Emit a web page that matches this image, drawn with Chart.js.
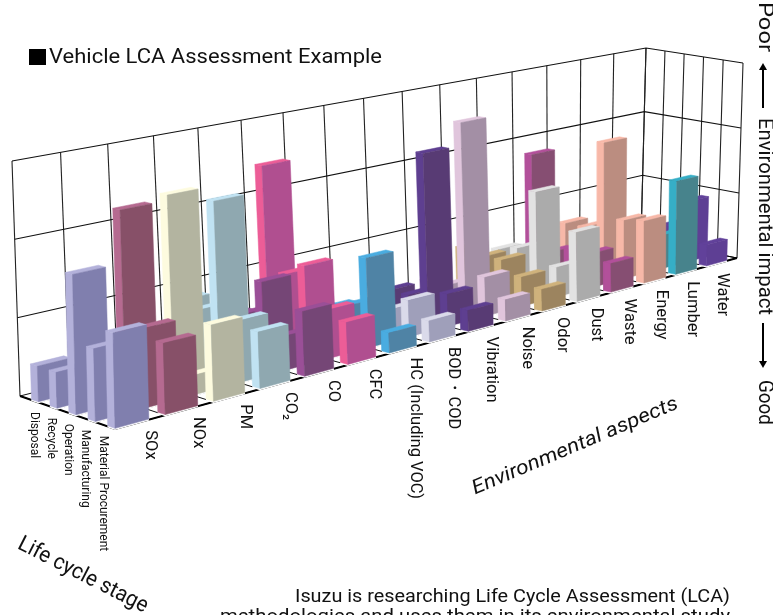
<!DOCTYPE html>
<html>
<head>
<meta charset="utf-8">
<style>
  html, body { margin: 0; padding: 0; background: #fff; overflow: hidden; }
  canvas { display: block; }
</style>
<script src="https://cdn.jsdelivr.net/npm/chart.js@4/dist/chart.umd.js"></script>
</head>
<body>
<canvas id="myChart" width="773" height="615"></canvas>
<script>
const aspects = ['SOx', 'NOx', 'PM', 'CO₂', 'CO', 'CFC', 'HC (Including VOC)', 'BOD・COD', 'Vibration', 'Noise', 'Odor', 'Dust', 'Waste', 'Energy', 'Lumber', 'Water'];
const stages = ['Disposal', 'Recycle', 'Operation', 'Manufacturing', 'Material Procurement'];

// impact per aspect in grid units (walls are 3 units tall)
const disposal      = [0.45, 0.30, 0.30, 0.85, 0.50, 2.42, 0.30, 0.20, 0.30, 0.30, 0.65, 0.50, 1.80, 0.65, 0.30, 0.30];
const recycle       = [0.45, 0.30, 0.30, 0.80, 0.60, 1.00, 0.40, 0.20, 0.30, 0.30, 0.58, 0.58, 0.40, 0.65, 0.30, 0.30];
const operation     = [1.75, 2.43, 2.50, 2.30, 1.10, 1.18, 0.50, 0.30, 2.37, 2.70, 0.60, 1.47, 0.50, 1.98, 0.30, 0.50];
const manufacturing = [0.90, 1.00, 0.25, 0.80, 0.45, 0.65, 1.22, 0.50, 0.45, 0.55, 0.42, 0.43, 0.50, 0.87, 0.50, 0.92];
const material      = [1.17, 0.89, 0.97, 0.73, 0.85, 0.56, 0.27, 0.29, 0.29, 0.30, 0.31, 1.00, 0.42, 0.92, 1.40, 0.32];
const stageValues = [disposal, recycle, operation, manufacturing, material];

const lightColors = ['#b3b1da', '#b56a90', '#fdfbdf', '#c0e2f2', '#9a4f97', '#ec5d97', '#4aace0', '#dadaea', '#5e3f90', '#e0c5dc', '#cfb27c', '#e2e2e2', '#b2509a', '#f7b8a8', '#36aec6', '#61419a'];
const darkColors  = ['#807fae', '#875068', '#b3b4a0', '#8fa8b0', '#754676', '#b04f90', '#4f83a5', '#9f9fba', '#583b74', '#a38fa5', '#9c845f', '#ababab', '#864e72', '#bb8d80', '#47838c', '#5e3f94'];

const maxImpact = 3;

// corners of the floor and of the ceiling on the page: A left, D back, C right, B front
const floorQuad = [[20, 396], [641, 239], [737, 258], [115, 429]];
const ceilQuad  = [[12, 161], [646, 48], [743, 63], [110, 184]];

function quadMap(q) {
  const dx1 = q[1][0] - q[2][0], dx2 = q[3][0] - q[2][0], sx = q[0][0] - q[1][0] + q[2][0] - q[3][0];
  const dy1 = q[1][1] - q[2][1], dy2 = q[3][1] - q[2][1], sy = q[0][1] - q[1][1] + q[2][1] - q[3][1];
  const den = dx1 * dy2 - dx2 * dy1;
  const g = (sx * dy2 - dx2 * sy) / den;
  const h = (dx1 * sy - sx * dy1) / den;
  const a = q[1][0] - q[0][0] + g * q[1][0];
  const b = q[3][0] - q[0][0] + h * q[3][0];
  const d = q[1][1] - q[0][1] + g * q[1][1];
  const e = q[3][1] - q[0][1] + h * q[3][1];
  return function (s, t) {
    const w = g * s + h * t + 1;
    return [(a * s + b * t + q[0][0]) / w, (d * s + e * t + q[0][1]) / w];
  };
}
const floorMap = quadMap(floorQuad);
const ceilMap = quadMap(ceilQuad);

// aspect position u (0..16), stage position v (0..5), height w (0..3)
function project(u, v, w) {
  const p = floorMap(u / aspects.length, v / stages.length);
  const q = ceilMap(u / aspects.length, v / stages.length);
  const k = w / maxImpact;
  return { x: p[0] + (q[0] - p[0]) * k, y: p[1] + (q[1] - p[1]) * k };
}

const drawList = [];

function addLine(points, color, width) {
  drawList.push({ data: points, showLine: true, fill: false, borderColor: color, borderWidth: width, pointRadius: 0, tension: 0 });
}
function addFace(points, color) {
  drawList.push({ data: points.concat([points[0]]), showLine: true, fill: 'shape', backgroundColor: color, borderColor: color, borderWidth: 0.5, pointRadius: 0, tension: 0 });
}

// walls and floor
const nU = aspects.length, nV = stages.length;
for (let i = 0; i <= nU; i++) {
  addLine([project(i, 0, 0), project(i, 0, maxImpact)], '#222', 1.1);
  addLine([project(i, 0, 0), project(i, nV, 0)], '#111', 1);
}
for (let j = 0; j <= nV; j++) {
  addLine([project(nU, j, 0), project(nU, j, maxImpact)], '#222', 1.1);
  addLine([project(0, j, 0), project(nU, j, 0)], '#111', 1);
}
for (let k = 1; k <= maxImpact; k++) {
  addLine([project(0, 0, k), project(nU, 0, k), project(nU, nV, k)], '#111', 1.1);
}
addLine([project(0, 0, 0), project(0, nV, 0), project(nU, nV, 0)], '#000', 2);
addLine([project(nU, 0, 0), project(nU, nV, 0)], '#000', 1.2);

// bars, far ones first
for (let j = 0; j < nV; j++) {
  for (let i = nU - 1; i >= 0; i--) {
    const h = stageValues[j][i];
    const u0 = i + 0.02, u1 = i + 0.69, v0 = j + 0.58, v1 = j + 0.95;
    // thin white edge where the bar stands on the floor
    addLine([project(u0, v0, 0), project(u0, v1, 0), project(u1, v1, 0)], '#fff', 3);
    addFace([project(u0, v0, h), project(u1, v0, h), project(u1, v1, h), project(u0, v1, h)], lightColors[i]);
    addFace([project(u0, v0, 0), project(u0, v1, 0), project(u0, v1, h), project(u0, v0, h)], lightColors[i]);
    addFace([project(u0, v1, 0), project(u1, v1, 0), project(u1, v1, h), project(u0, v1, h)], darkColors[i]);
  }
}

function putText(ctx, text, x, y, angle, font, width, squeeze) {
  ctx.save();
  ctx.translate(x, y);
  ctx.rotate(angle * Math.PI / 180);
  ctx.font = font;
  ctx.fillStyle = '#111';
  ctx.textAlign = 'left';
  ctx.textBaseline = 'middle';
  if (width) ctx.scale(width / ctx.measureText(text).width, 1);
  else if (squeeze) ctx.scale(squeeze, 1);
  ctx.fillText(text, 0, 0);
  ctx.restore();
}

function arrow(ctx, x, y0, y1) {
  const d = y1 > y0 ? 1 : -1;
  ctx.strokeStyle = '#000';
  ctx.lineWidth = 2;
  ctx.beginPath();
  ctx.moveTo(x, y0);
  ctx.lineTo(x, y1 - d * 5);
  ctx.stroke();
  ctx.fillStyle = '#000';
  ctx.beginPath();
  ctx.moveTo(x, y1);
  ctx.lineTo(x - 4, y1 - d * 7);
  ctx.lineTo(x + 4, y1 - d * 7);
  ctx.fill();
}

const annotations = {
  id: 'annotations',
  afterDraw(chart) {
    const ctx = chart.ctx;
    ctx.fillStyle = '#000';
    ctx.fillRect(29, 49, 17, 16);
    putText(ctx, 'Vehicle LCA Assessment Example', 49, 58, 0, '20px Roboto', 333);

    aspects.forEach(function (name, i) {
      const p = project(i + 0.7 - 0.2 * i / 15, nV, 0);
      putText(ctx, name, p.x, p.y + 11, 90, '16.5px Roboto');
    });
    stages.forEach(function (name, j) {
      const p = project(0, j + 0.8 - 0.1 * j, 0);
      putText(ctx, name, p.x, p.y + 11, 90, '13px Roboto', null, 0.92);
    });

    putText(ctx, 'Environmental aspects', 473, 490, -23, 'italic 20px Roboto', 222);
    putText(ctx, 'Life cycle stage', 19, 543, 27, '22px Roboto', 143);

    putText(ctx, 'Poor', 764, 2, 90, '21px Roboto', 50);
    arrow(ctx, 763, 108, 63);
    putText(ctx, 'Environmental impact', 764, 118, 90, '21px Roboto', 197);
    arrow(ctx, 763, 323, 368);
    putText(ctx, 'Good', 764, 380, 90, '21px Roboto', 45);

    putText(ctx, 'Isuzu is researching Life Cycle Assessment (LCA)', 295, 597, 0, '18px Roboto', 435);
    putText(ctx, 'methodologies and uses them in its environmental study', 220, 617, 0, '18px Roboto', 510);
  }
};

const myChart = new Chart(document.getElementById('myChart'), {
  type: 'scatter',
  data: { datasets: drawList.slice().reverse() },
  options: {
    responsive: false,
    animation: false,
    layout: { padding: 0 },
    plugins: { legend: { display: false }, tooltip: { enabled: false } },
    scales: {
      x: { type: 'linear', display: false, min: 0, max: 773 },
      y: { type: 'linear', display: false, min: 0, max: 615, reverse: true }
    }
  },
  plugins: [annotations]
});
</script>
</body>
</html>
